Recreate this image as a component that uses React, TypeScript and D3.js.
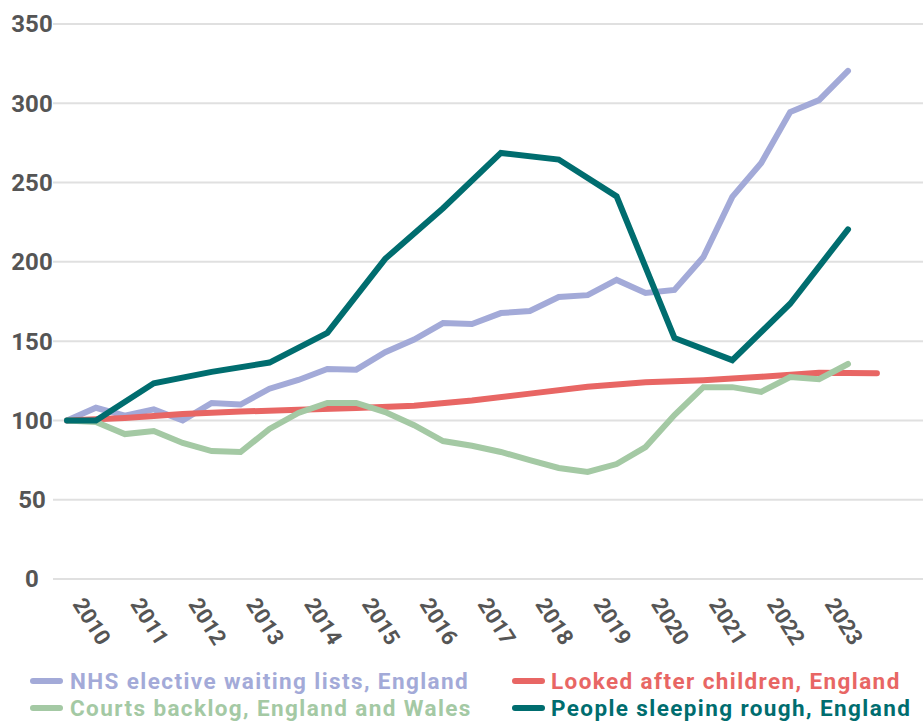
import React from "react";
import * as d3 from "d3";

// Half-yearly periods (2010 H1 ... 2023 H2)
const halfPeriods = [
  2010, 2010.5, 2011, 2011.5, 2012, 2012.5, 2013, 2013.5, 2014, 2014.5,
  2015, 2015.5, 2016, 2016.5, 2017, 2017.5, 2018, 2018.5, 2019, 2019.5,
  2020, 2020.5, 2021, 2021.5, 2022, 2022.5, 2023, 2023.5,
];
const nhsValues = [
  100, 108, 103, 107, 100, 111, 110, 120, 125.5, 132.4,
  132, 143, 151, 161.4, 160.8, 167.7, 169, 177.8, 179, 188.6,
  180.4, 182.3, 203, 241, 262.3, 294.5, 302, 320.4,
];
const courtsValues = [
  100, 99, 91.4, 93.3, 85.8, 80.7, 80.1, 94.6, 104.7, 111,
  111, 105.3, 97, 87, 84, 80.1, 75, 70, 67.5, 72.5,
  83.2, 103.4, 121, 121, 118, 127.4, 126, 135.6,
];

// Annual periods for looked after children (2010 ... 2024)
const lacPeriods = [2010, 2011, 2012, 2013, 2014, 2015, 2016, 2017, 2018, 2019, 2020, 2021, 2022, 2023, 2024];
const lacValues = [100, 101.6, 104, 105.6, 106.7, 107.8, 109.3, 112.6, 116.9, 121.2, 124.1, 125.4, 127.5, 130, 129.7];

// Rough sleeping (2010, then autumn counts)
const roughPeriods = [2010, 2010.5, 2011.5, 2012.5, 2013.5, 2014.5, 2015.5, 2016.5, 2017.5, 2018.5, 2019.5, 2020.5, 2021.5, 2022.5, 2023.5];
const roughValues = [100, 100, 123.4, 130.6, 136.5, 155.2, 201.9, 233.8, 268.7, 264.5, 241.3, 152, 138, 173.6, 220.5];

const yearLabels = ["2010", "2011", "2012", "2013", "2014", "2015", "2016", "2017", "2018", "2019", "2020", "2021", "2022", "2023"];
const yTicks = [0, 50, 100, 150, 200, 250, 300, 350];

const legendItems = [
  { label: "NHS elective waiting lists, England", color: "#a3aad8" },
  { label: "Looked after children, England", color: "#e86664" },
  { label: "Courts backlog, England and Wales", color: "#a4c9a4" },
  { label: "People sleeping rough, England", color: "#006d6f" },
];

const W = 923;
const H = 724;
const FONT = "Roboto, 'Noto Sans', sans-serif";

export default function App() {
  const x = d3.scaleLinear().domain([2010, 2023.5]).range([67, 848]);
  const y = d3.scaleLinear().domain([0, 350]).range([579, 24]);

  const line = d3
    .line<[number, number]>()
    .x((d) => x(d[0]))
    .y((d) => y(d[1]));

  const zip = (a: number[], b: number[]) => a.map((v, i) => [v, b[i]] as [number, number]);

  const series = [
    { pts: zip(halfPeriods, nhsValues), color: legendItems[0].color },
    { pts: zip(lacPeriods, lacValues), color: legendItems[1].color },
    { pts: zip(halfPeriods, courtsValues), color: legendItems[2].color },
    { pts: zip(roughPeriods, roughValues), color: legendItems[3].color },
  ];

  const legendPos = [
    { sx: 30, tx: 70, y: 681 },
    { sx: 512, tx: 551, y: 681 },
    { sx: 30, tx: 70, y: 708 },
    { sx: 512, tx: 551, y: 708 },
  ];

  return (
    <svg
      width={W}
      height={H}
      style={{ position: "absolute", left: 0, top: 0, background: "#fff" }}
      fontFamily={FONT}
    >
      {yTicks.map((t) => (
        <g key={t}>
          <line x1={53} x2={W} y1={y(t)} y2={y(t)} stroke="#e0e0e0" strokeWidth={2} />
          <text
            x={32}
            y={y(t)}
            dy="0.35em"
            textAnchor="middle"
            fontSize={24}
            fontWeight={700}
            fill="#555"
          >
            {t}
          </text>
        </g>
      ))}
      {yearLabels.map((lab) => {
        const tx = x(+lab) + 5;
        const ty = 604;
        return (
          <text
            key={lab}
            x={tx}
            y={ty}
            transform={`rotate(58 ${tx} ${ty})`}
            fontSize={22}
            fontWeight={700}
            fill="#555"
          >
            {lab}
          </text>
        );
      })}
      {series.map((s, i) => (
        <path
          key={i}
          d={line(s.pts) || ""}
          fill="none"
          stroke={s.color}
          strokeWidth={6}
          strokeLinecap="round"
          strokeLinejoin="miter"
        />
      ))}
      {legendItems.map((it, i) => {
        const p = legendPos[i];
        return (
          <g key={it.label}>
            <line
              x1={p.sx + 3}
              x2={p.sx + 30}
              y1={p.y}
              y2={p.y}
              stroke={it.color}
              strokeWidth={6}
              strokeLinecap="round"
            />
            <text
              x={p.tx}
              y={p.y}
              dy="0.36em"
              fontSize={22.5}
              letterSpacing={1.4}
              fontWeight={700}
              fill={it.color}
            >
              {it.label}
            </text>
          </g>
        );
      })}
    </svg>
  );
}
